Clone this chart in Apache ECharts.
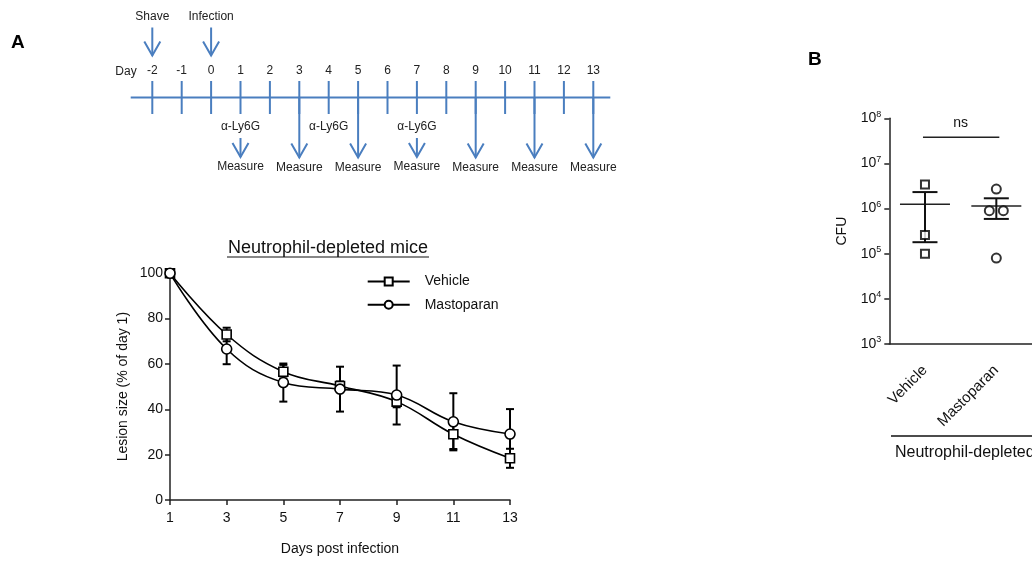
<!DOCTYPE html>
<html><head><meta charset="utf-8">
<script src="https://cdn.jsdelivr.net/npm/echarts@6/dist/echarts.min.js"></script>
<style>html,body{margin:0;padding:0;background:#fff}#c{width:1032px;height:562px}</style>
</head><body><div id="c"></div>
<script>
const FONT = '"Liberation Sans", Arial, Helvetica, sans-serif';
const BLUE = '#4A7EBF';
// ---- Timeline (panel A, top) ----
const timelineDays = [-2,-1,0,1,2,3,4,5,6,7,8,9,10,11,12,13];
const preEvents = [{day:-2,label:'Shave'},{day:0,label:'Infection'}];
const antibodyDays = [1,4,7];
const antibodyLabel = 'α-Ly6G';
const measureDays = [1,3,5,7,9,11,13];
const measureLabel = 'Measure';
// ---- Lesion size (panel A, bottom) ----
const days = [1,3,5,7,9,11,13];
const vehicleMean = [100,73,56.6,50.3,43.4,29,18.4];
const vehicleSem  = [0,3,3,2,2.5,6.5,4.2];
const mastoMean   = [100,66.6,51.8,48.9,46.3,34.5,29.1];
const mastoSem    = [0,6.7,8.4,9.9,13,12.6,11];
// ---- CFU (panel B) ----
const groups = ['Vehicle','Mastoparan'];
const vehicleCFU = [3.4e6,2.6e5,1.0e5];
const mastoCFU = [2.7e6,9.0e5,9.0e5,8.0e4];
const groupMean = [1.25e6,1.14e6];
const groupSem = [1.07e6,0.55e6];
const nsLevel = [3.8e7];

// timeline items
const tlItems = [{kind:'base', value:[-2,0]}];
timelineDays.forEach(d=>tlItems.push({kind:'tick', value:[d,0]}));
preEvents.forEach(e=>tlItems.push({kind:'pre', value:[e.day,0], label:e.label}));
antibodyDays.forEach(d=>tlItems.push({kind:'ab', value:[d,0], measure: measureDays.includes(d)}));
measureDays.forEach(d=>{ if(!antibodyDays.includes(d)) tlItems.push({kind:'long', value:[d,0]}); });

function arrowHead(x, tipY){
  return {type:'polyline', shape:{points:[[x-8,tipY-14],[x,tipY],[x+8,tipY-14]]}, style:{stroke:BLUE,lineWidth:2,fill:null}};
}
function vline(x,y1,y2){ return {type:'line', shape:{x1:x,y1:y1,x2:x,y2:y2}, style:{stroke:BLUE,lineWidth:2}}; }
function tText(x,y,t){ return {type:'text', style:{x:x,y:y,text:t,align:'center',verticalAlign:'middle',font:'12px '+FONT,fill:'#222'}}; }

function tlRender(params, api){
  const it = tlItems[params.dataIndex];
  const cs = params.coordSys;
  const B = cs.y + cs.height/2;
  const x = api.coord([api.value(0),0])[0];
  const ch = [];
  if(it.kind==='base'){
    ch.push({type:'line', shape:{x1:cs.x-21.6,y1:B,x2:cs.x+cs.width+17,y2:B}, style:{stroke:BLUE,lineWidth:2}});
  } else if(it.kind==='tick'){
    ch.push(vline(x, cs.y, cs.y+cs.height));
  } else if(it.kind==='pre'){
    ch.push(vline(x, B-70, B-42)); ch.push(arrowHead(x, B-42));
    ch.push(tText(x, B-80.5, it.label));
  } else if(it.kind==='ab'){
    ch.push(tText(x, B+29.5, antibodyLabel));
    if(it.measure){ ch.push(vline(x, B+40.5, B+59.5)); ch.push(arrowHead(x, B+59.5)); ch.push(tText(x, B+69.5, measureLabel)); }
  } else if(it.kind==='long'){
    ch.push(vline(x, B, B+60)); ch.push(arrowHead(x, B+60)); ch.push(tText(x, B+70, measureLabel));
  }
  return {type:'group', children:ch};
}

function errRender(params, api){
  const x = api.value(0), lo = api.value(1), hi = api.value(2);
  const p1 = api.coord([x, lo]), p2 = api.coord([x, hi]);
  const w = 4, st = {stroke:'#000', lineWidth:2};
  return {type:'group', children:[
    {type:'line', shape:{x1:p1[0],y1:p1[1],x2:p2[0],y2:p2[1]}, style:st},
    {type:'line', shape:{x1:p1[0]-w,y1:p1[1],x2:p1[0]+w,y2:p1[1]}, style:st},
    {type:'line', shape:{x1:p2[0]-w,y1:p2[1],x2:p2[0]+w,y2:p2[1]}, style:st}
  ]};
}
function errData(mean, sem){
  const out=[]; days.forEach((d,i)=>{ if(sem[i]>0) out.push([d, mean[i]-sem[i], mean[i]+sem[i]]); }); return out;
}
function meanRender(params, api){
  const c = api.value(0), m = api.value(1), lo = api.value(2), hi = api.value(3);
  const pm = api.coord([c, m]), pl = api.coord([c, lo]), ph = api.coord([c, hi]);
  const st = {stroke:'#111', lineWidth:2};
  return {type:'group', children:[
    {type:'line', shape:{x1:pm[0]-25,y1:pm[1],x2:pm[0]+25,y2:pm[1]}, style:{stroke:'#222',lineWidth:1.6}},
    {type:'line', shape:{x1:pl[0],y1:pl[1],x2:ph[0],y2:ph[1]}, style:st},
    {type:'line', shape:{x1:pl[0]-12.5,y1:pl[1],x2:pl[0]+12.5,y2:pl[1]}, style:st},
    {type:'line', shape:{x1:ph[0]-12.5,y1:ph[1],x2:ph[0]+12.5,y2:ph[1]}, style:st}
  ]};
}
function nsRender(params, api){
  const y = api.value(0);
  const a = api.coord([0, y]), b = api.coord([1, y]);
  return {type:'group', children:[
    {type:'line', shape:{x1:a[0]-2,y1:a[1],x2:b[0]+3,y2:b[1]}, style:{stroke:'#222',lineWidth:1.6}},
    {type:'text', style:{x:(a[0]+b[0])/2, y:a[1]-7, text:'ns', align:'center', verticalAlign:'bottom', font:'14px '+FONT, fill:'#111'}}
  ]};
}
function dupOffsets(arr){
  return arr.map((v,i)=>{
    const idx = arr.map((w,j)=>w===v?j:-1).filter(j=>j>=0);
    if(idx.length<2) return [0,0];
    const k = idx.indexOf(i);
    return [k===0?-7:7, 0];
  });
}
const mOff = dupOffsets(mastoCFU);
const axisTxt = {color:'#111', fontFamily:FONT};

const chart = echarts.init(document.getElementById('c'), null, {renderer:'canvas'});
chart.setOption({
  backgroundColor:'#fff',
  animation:false,
  textStyle:{fontFamily:FONT},
  grid:[
    {left:152.3, width:441, top:81, height:33},
    {left:170, width:340, top:273.3, height:226.7},
    {left:889.3, width:151.2, top:118.3, height:225.7}
  ],
  xAxis:[
    {gridIndex:0, type:'value', min:-2, max:13, interval:1, position:'top',
     axisLine:{show:false}, axisTick:{show:false}, splitLine:{show:false},
     axisLabel:{margin:4, fontSize:12, color:'#222', fontFamily:FONT}},
    {gridIndex:1, type:'value', min:1, max:13, interval:2,
     axisLine:{lineStyle:{color:'#222', width:1.5}}, axisTick:{length:5, lineStyle:{color:'#222',width:1.5}},
     splitLine:{show:false}, axisLabel:Object.assign({fontSize:14, margin:11}, axisTxt),
     name:'Days post infection', nameLocation:'middle', nameGap:42, nameTextStyle:Object.assign({fontSize:14}, axisTxt)},
    {gridIndex:2, type:'category', data:groups, boundaryGap:true,
     axisLine:{lineStyle:{color:'#222', width:1.5}}, axisTick:{alignWithLabel:true, length:5, lineStyle:{color:'#222',width:1.5}},
     axisLabel:Object.assign({fontSize:15, rotate:45, margin:24, interval:0}, axisTxt)}
  ],
  yAxis:[
    {gridIndex:0, type:'value', min:-1, max:1, show:false},
    {gridIndex:1, type:'value', min:0, max:100, interval:20,
     axisLine:{show:true, lineStyle:{color:'#222', width:1.5}}, axisTick:{show:true, length:5, lineStyle:{color:'#222',width:1.5}},
     splitLine:{show:false}, axisLabel:Object.assign({fontSize:14, margin:7}, axisTxt),
     name:'Lesion size (% of day 1)', nameLocation:'middle', nameGap:40, nameTextStyle:Object.assign({fontSize:14}, axisTxt)},
    {gridIndex:2, type:'log', logBase:10, min:1e3, max:1e8,
     axisLine:{show:true, lineStyle:{color:'#222', width:1.5}}, axisTick:{show:true, length:5, lineStyle:{color:'#222',width:1.5}},
     splitLine:{show:false}, minorTick:{show:false},
     axisLabel:{margin:8, formatter:v=>'{b|10}{s|'+Math.round(Math.log10(v))+'}',
       rich:{b:{fontSize:14, color:'#111', fontFamily:FONT}, s:{fontSize:9, color:'#111', fontFamily:FONT, verticalAlign:'top', padding:[0,0,8,0]}}},
     name:'CFU', nameLocation:'middle', nameGap:40, nameTextStyle:Object.assign({fontSize:14}, axisTxt)}
  ],
  legend:{
    data:['Vehicle','Mastoparan'], orient:'vertical', left:361.7, top:269.5,
    itemWidth:42, itemHeight:10, itemGap:9.3,
    textStyle:Object.assign({fontSize:14, padding:[0,0,0,10]}, axisTxt)
  },
  series:[
    {type:'custom', name:'timeline', xAxisIndex:0, yAxisIndex:0, renderItem:tlRender, data:tlItems.map(t=>t.value), clip:false, silent:true},
    {type:'custom', name:'vehErr', xAxisIndex:1, yAxisIndex:1, renderItem:errRender, data:errData(vehicleMean, vehicleSem), z:1},
    {type:'custom', name:'masErr', xAxisIndex:1, yAxisIndex:1, renderItem:errRender, data:errData(mastoMean, mastoSem), z:1},
    {type:'line', name:'Vehicle', xAxisIndex:1, yAxisIndex:1, smooth:0.4, data:days.map((d,i)=>[d, vehicleMean[i]]),
     symbol:'rect', symbolSize:9, lineStyle:{color:'#000', width:1.6},
     itemStyle:{color:'#fff', borderColor:'#000', borderWidth:1.6}, z:3},
    {type:'line', name:'Mastoparan', xAxisIndex:1, yAxisIndex:1, smooth:0.4, data:days.map((d,i)=>[d, mastoMean[i]]),
     symbol:'circle', symbolSize:10, lineStyle:{color:'#000', width:1.6},
     itemStyle:{color:'#fff', borderColor:'#000', borderWidth:1.6}, z:3},
    {type:'custom', name:'meanSem', xAxisIndex:2, yAxisIndex:2, renderItem:meanRender, clip:false,
     data:groups.map((g,i)=>[i, groupMean[i], groupMean[i]-groupSem[i], groupMean[i]+groupSem[i]]), z:2},
    {type:'scatter', name:'VehicleCFU', xAxisIndex:2, yAxisIndex:2, symbol:'rect', symbolSize:8,
     data:vehicleCFU.map(v=>[0,v]), itemStyle:{color:'#fff', borderColor:'#000', borderWidth:2}, z:3},
    {type:'scatter', name:'MastoCFU', xAxisIndex:2, yAxisIndex:2, symbol:'circle', symbolSize:9,
     data:mastoCFU.map((v,i)=>({value:[1,v], symbolOffset:mOff[i]})), itemStyle:{color:'#fff', borderColor:'#000', borderWidth:2}, z:3},
    {type:'custom', name:'ns', xAxisIndex:2, yAxisIndex:2, renderItem:nsRender, data:nsLevel.map(v=>[v]), encode:{y:0}, clip:false}
  ],
  graphic:[
    {type:'text', left:11, top:33, style:{text:'A', font:'bold 19px '+FONT, fill:'#000'}},
    {type:'text', left:808, top:50, style:{text:'B', font:'bold 19px '+FONT, fill:'#000'}},
    {type:'text', x:126, y:72, style:{text:'Day', font:'12px '+FONT, fill:'#222', align:'center', verticalAlign:'middle'}},
    {type:'text', x:328, y:248, style:{text:'Neutrophil-depleted mice', font:'18px '+FONT, fill:'#111', align:'center', verticalAlign:'middle'}},
    {type:'line', shape:{x1:227, y1:257, x2:429, y2:257}, style:{stroke:'#111', lineWidth:1.2}},
    {type:'line', shape:{x1:891, y1:436, x2:1040, y2:436}, style:{stroke:'#111', lineWidth:1.6}},
    {type:'text', x:895, y:453, style:{text:'Neutrophil-depleted', font:'16px '+FONT, fill:'#111', align:'left', verticalAlign:'middle'}}
  ]
});
</script>
</body></html>
